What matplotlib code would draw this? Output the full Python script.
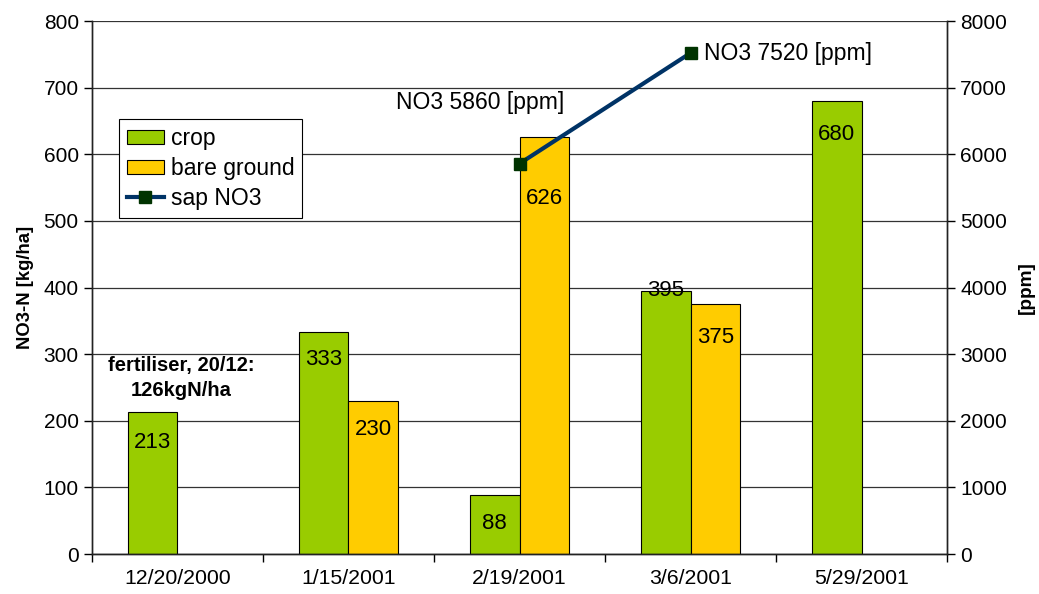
import numpy as np
import matplotlib.pyplot as plt
from matplotlib.lines import Line2D
from matplotlib.patches import Patch

plt.rcParams['font.family'] = ['Liberation Sans', 'DejaVu Sans']

dates = ['12/20/2000', '1/15/2001', '2/19/2001', '3/6/2001', '5/29/2001']
crop = [213, 333, 88, 395, 680]
bare = [np.nan, 230, 626, 375, np.nan]
sap_idx = [2, 3]
sap_no3 = [5860, 7520]

green = '#99CC00'
yellow = '#FFCC00'

fig = plt.figure(figsize=(10.39, 5.94), dpi=100)
ax = fig.add_axes([0.0885, 0.0673, 0.8230, 0.8973])
ax2 = ax.twinx()

x = np.arange(len(dates))
w = 0.292

ax.set_axisbelow(True)
ax.yaxis.grid(True, color='#333333', linewidth=0.9)

ax.bar(x - w / 2, crop, w, color=green, edgecolor='black', linewidth=0.8, zorder=2)
ax.bar(x + w / 2, bare, w, color=yellow, edgecolor='black', linewidth=0.8, zorder=2)

# value labels sit just inside the top of each bar
crop_off = [-22, -20, -20, 0, -24]
bare_off = [0, -21, -44, -24, 0]
for i in range(len(dates)):
    ax.annotate(str(crop[i]), (x[i] - w / 2, crop[i]), xytext=(0, crop_off[i]),
                textcoords='offset points', ha='center', va='center', fontsize=16, zorder=3)
    if not np.isnan(bare[i]):
        ax.annotate(str(int(bare[i])), (x[i] + w / 2, bare[i]), xytext=(0, bare_off[i]),
                    textcoords='offset points', ha='center', va='center', fontsize=16, zorder=3)

ax.text(0.02, 264, 'fertiliser, 20/12:\n126kgN/ha', ha='center', va='center',
        fontsize=14.5, fontweight='bold', linespacing=1.4)

ax.set_xlim(-0.5, 4.5)
ax.set_ylim(0, 800)
ax.set_yticks(np.arange(0, 801, 100))
ax.set_xticks(x)
ax.set_xticklabels(dates, fontsize=15.3)
ax.set_xticks(np.arange(-0.5, 4.6, 1), minor=True)
ax.tick_params(axis='x', which='major', length=0, pad=11)
ax.tick_params(axis='x', which='minor', length=6, width=1)
ax.tick_params(axis='y', labelsize=15, length=6, width=1)
ax.set_ylabel('NO3-N [kg/ha]', fontsize=13.3, fontweight='bold', labelpad=7)

ax2.plot(x[sap_idx], sap_no3, color='#003366', linewidth=3, marker='s',
         markersize=9, markerfacecolor='#003300', markeredgecolor='#003300', zorder=4)
ax2.annotate('NO3 5860 [ppm]', (x[2], sap_no3[0]), xytext=(-89, 44), textcoords='offset points',
             ha='left', va='center', fontsize=16.5)
ax2.annotate('NO3 7520 [ppm]', (x[3], sap_no3[1]), xytext=(10, 0), textcoords='offset points',
             ha='left', va='center', fontsize=16.5)
ax2.set_ylim(0, 8000)
ax2.set_yticks(np.arange(0, 8001, 1000))
ax2.tick_params(axis='y', labelsize=15, length=6, width=1)
ax2.set_ylabel('[ppm]', fontsize=13.7, fontweight='bold', labelpad=8)

for a in (ax, ax2):
    a.spines['top'].set_visible(False)
    for s in ('left', 'right', 'bottom'):
        a.spines[s].set_color('#222222')
        a.spines[s].set_linewidth(1)

handles = [Patch(facecolor=green, edgecolor='black', linewidth=0.8, label='crop'),
           Patch(facecolor=yellow, edgecolor='black', linewidth=0.8, label='bare ground'),
           Line2D([], [], color='#003366', linewidth=3, marker='s', markersize=9,
                  markerfacecolor='#003300', markeredgecolor='#003300', label='sap NO3')]
leg = ax2.legend(handles=handles, loc='upper left', bbox_to_anchor=(0.0316, 0.816),
                 borderaxespad=0, fontsize=16.5, frameon=True, fancybox=False,
                 edgecolor='black', framealpha=1, borderpad=0.35, labelspacing=0.3,
                 handlelength=1.6, handleheight=0.55, handletextpad=0.3)
leg.get_frame().set_linewidth(0.8)

fig.savefig('out.png', dpi=100)
